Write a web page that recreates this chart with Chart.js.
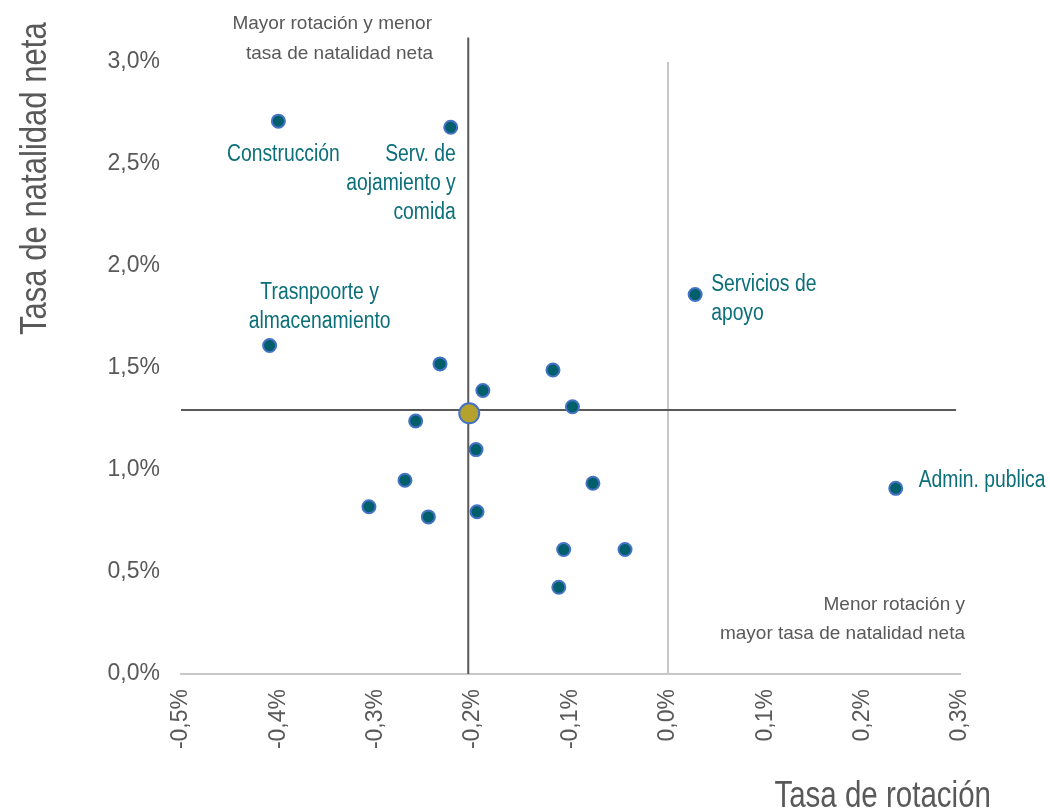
<!DOCTYPE html>
<html lang="es">
<head>
<meta charset="utf-8">
<title>Tasa de rotación y tasa de natalidad neta</title>
<script src="https://cdn.jsdelivr.net/npm/chart.js@4.4.1/dist/chart.umd.min.js"></script>
<style>
  html, body { margin: 0; padding: 0; background: #fff; }
  #wrap { width: 1050px; height: 811px; }
</style>
</head>
<body>
<div id="wrap"><canvas id="rotacion-chart" width="1050" height="811"></canvas></div>
<script>
  'use strict';

  // sectores: tasa de rotación (x) y tasa de natalidad neta (y), en %
  const sectores = [
    ['Construcción'],
    ['Serv. de', 'aojamiento y', 'comida'],
    ['Servicios de', 'apoyo'],
    ['Trasnpoorte y', 'almacenamiento'],
    null, null, null, null, null, null, null, null,
    ['Admin. publica'],
    null, null, null, null, null, null
  ];
  const rotacion = [-0.40, -0.223, 0.028, -0.409, -0.234, -0.118, -0.190, -0.098, -0.259, -0.197,
                    -0.270, -0.077, 0.234, -0.307, -0.246, -0.196, -0.107, -0.044, -0.112];
  const natalidad = [2.71, 2.68, 1.86, 1.61, 1.52, 1.49, 1.39, 1.31, 1.24, 1.10,
                     0.95, 0.935, 0.91, 0.82, 0.77, 0.795, 0.61, 0.61, 0.425];

  // promedio del total
  const promedioRotacion = [-0.204];
  const promedioNatalidad = [1.278];

  // cruce de cuadrantes
  const lineaVerticalX = [-0.205, -0.205];
  const lineaVerticalY = [0, 3.12];
  const lineaHorizontalX = [-0.5, 0.296];
  const lineaHorizontalY = [1.294, 1.294];

  const xTicks = [-0.5, -0.4, -0.3, -0.2, -0.1, 0.0, 0.1, 0.2, 0.3];
  const yTicks = [0, 0.5, 1.0, 1.5, 2.0, 2.5, 3.0];

  const GRIS = '#595959';
  const SANS = "'Liberation Sans', Arial, sans-serif";

  const pct = v => Number(v).toFixed(1).replace('.', ',') + '%';
  const puntos = (xs, ys) => xs.map((v, i) => ({ x: v, y: ys[i] }));

  // texto estrecho: Liberation Sans comprimida en horizontal
  function textoEstrecho(ctx, texto, x, y, align, sx) {
    ctx.save();
    ctx.translate(x, y);
    ctx.scale(sx, 1);
    ctx.textAlign = align;
    ctx.fillText(texto, 0, 0);
    ctx.restore();
  }

  // dónde va cada etiqueta respecto a su punto
  const posEtiquetas = {
    0: { dx: 5, dy: 33, align: 'center' },
    1: { dx: 5, dy: 27, align: 'right' },
    2: { dx: 16, dy: -10, align: 'left' },
    3: { dx: 50, dy: -53, align: 'center' },
    12: { dx: 23, dy: -8, align: 'left' }
  };

  const textosPlugin = {
    id: 'textos',
    afterDatasetsDraw(chart) {
      const { ctx, scales: { x, y } } = chart;
      ctx.save();
      ctx.textBaseline = 'middle';

      // etiquetas de sectores
      ctx.fillStyle = '#0B6F7A';
      ctx.font = '23px ' + SANS;
      sectores.forEach((lineas, i) => {
        const pos = posEtiquetas[i];
        if (!lineas || !pos) return;
        const px = x.getPixelForValue(rotacion[i]);
        const py = y.getPixelForValue(natalidad[i]);
        lineas.forEach((t, k) => textoEstrecho(ctx, t, px + pos.dx, py + pos.dy + k * 29, pos.align, 0.84));
      });

      // notas de cuadrantes
      ctx.fillStyle = GRIS;
      ctx.font = '19px ' + SANS;
      ctx.textAlign = 'right';
      ctx.fillText('Mayor rotación y menor', 432, 24);
      ctx.fillText('tasa de natalidad neta', 433, 54);
      ctx.fillText('Menor rotación y', 965, 605);
      ctx.fillText('mayor tasa de natalidad neta', 965, 634);

      // títulos de ejes
      ctx.textBaseline = 'alphabetic';
      ctx.font = '36px ' + SANS;
      textoEstrecho(ctx, 'Tasa de rotación', 991, 807, 'right', 0.82);

      ctx.font = '37px ' + SANS;
      ctx.translate(46, 335);
      ctx.rotate(-Math.PI / 2);
      textoEstrecho(ctx, 'Tasa de natalidad neta', 0, 0, 'left', 0.84);
      ctx.restore();
    }
  };

  new Chart(document.getElementById('rotacion-chart'), {
    type: 'scatter',
    data: {
      datasets: [
        {
          label: 'Sectores',
          data: puntos(rotacion, natalidad),
          backgroundColor: '#005F6B',
          borderColor: '#4472C4',
          borderWidth: 2,
          pointRadius: 6.5,
          pointHoverRadius: 6.5,
          order: 0
        },
        {
          label: 'Total',
          data: puntos(promedioRotacion, promedioNatalidad),
          backgroundColor: '#B5A22E',
          borderColor: '#4472C4',
          borderWidth: 2,
          pointRadius: 10,
          pointHoverRadius: 10,
          order: 1
        },
        {
          label: 'Vertical',
          data: puntos(lineaVerticalX, lineaVerticalY),
          showLine: true,
          borderColor: GRIS,
          borderWidth: 2,
          pointRadius: 0,
          clip: false,
          order: 2
        },
        {
          label: 'Horizontal',
          data: puntos(lineaHorizontalX, lineaHorizontalY),
          showLine: true,
          borderColor: GRIS,
          borderWidth: 2,
          pointRadius: 0,
          clip: false,
          order: 2
        }
      ]
    },
    options: {
      responsive: false,
      animation: false,
      layout: {
        padding: { top: 62, right: 90, bottom: 0, left: 0 }
      },
      scales: {
        x: {
          type: 'linear',
          min: -0.5,
          max: 0.3,
          afterBuildTicks: scale => { scale.ticks = xTicks.map(value => ({ value })); },
          afterFit: scale => { scale.height = 137; },
          grid: {
            drawTicks: false,
            lineWidth: 2,
            color: c => (c.tick && c.tick.value === 0 ? '#C8C8C8' : 'rgba(0,0,0,0)')
          },
          border: { display: true, color: '#C8C8C8', width: 2 },
          ticks: {
            minRotation: 90,
            maxRotation: 90,
            padding: 15,
            color: GRIS,
            font: { family: SANS, size: 23 },
            callback: v => pct(v)
          }
        },
        y: {
          type: 'linear',
          min: 0,
          max: 3,
          afterBuildTicks: scale => { scale.ticks = yTicks.map(value => ({ value })); },
          afterFit: scale => { scale.width = 181; },
          grid: { display: false, drawTicks: false },
          border: { display: false },
          ticks: {
            padding: 21,
            color: GRIS,
            font: { family: SANS, size: 23 },
            callback: v => pct(v)
          }
        }
      },
      plugins: {
        legend: { display: false },
        tooltip: { enabled: false }
      }
    },
    plugins: [textosPlugin]
  });
</script>
</body>
</html>
